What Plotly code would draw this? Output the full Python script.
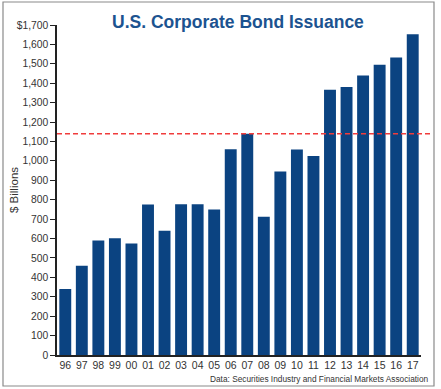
import plotly.graph_objects as go

years = ["96", "97", "98", "99", "00", "01", "02", "03", "04", "05", "06",
         "07", "08", "09", "10", "11", "12", "13", "14", "15", "16", "17"]
issuance = [340, 460, 590, 602, 575, 775, 640, 777, 777, 750, 1060,
            1140, 712, 945, 1058, 1025, 1367, 1380, 1440, 1495, 1532, 1652]
ref_level = 1140
y_tickvals = list(range(0, 1701, 100))
y_ticktext = [f"{v:,}" for v in y_tickvals[:-1]] + ["$1,700"]

title_text = "U.S. Corporate Bond Issuance"
source_text = "Data: Securities Industry and Financial Markets Association"
ytitle_text = "$ Billions"

FONT = "Liberation Sans, Arial, sans-serif"

W, H = 441, 389
L, R, T, B = 57, 421, 25, 355
pw, ph = R - L, B - T
def px(x):
    return (x - L) / pw
def py(y):
    return (B - y) / ph

fig = go.Figure()
fig.add_trace(go.Bar(x=years, y=issuance, marker=dict(color="#0b4381", line=dict(width=0)),
                     hoverinfo="x+y"))

fig.update_layout(
    width=W, height=H,
    margin=dict(l=L, r=W - R, t=T, b=H - B, autoexpand=False),
    paper_bgcolor="white", plot_bgcolor="white",
    bargap=0.28, showlegend=False,
    xaxis=dict(type="category", range=[-0.5, 21.5], showline=True, linecolor="#222",
               linewidth=1.5, ticks="", showgrid=False, zeroline=False, automargin=False,
               tickfont=dict(family=FONT, size=10.5, color="#333")),
    yaxis=dict(range=[0, 1700], tickvals=y_tickvals, ticktext=y_ticktext,
               showline=True, linecolor="#222", linewidth=1.5, ticks="outside",
               ticklen=5, tickcolor="#222", showgrid=False, zeroline=False, automargin=False,
               tickfont=dict(family=FONT, size=10.3, color="#333")),
    shapes=[
        dict(type="rect", xref="paper", yref="paper", x0=px(3), x1=px(434), y0=py(386), y1=py(2),
             line=dict(color="#8a8a8a", width=1.2), layer="below"),
        dict(type="line", xref="paper", yref="y", x0=0, x1=px(432), y0=ref_level, y1=ref_level,
             line=dict(color="#f03c3c", width=1.5, dash="5px,3px")),
    ],
    annotations=[
        dict(text="<b>" + title_text + "</b>", xref="paper", yref="paper", x=px(238), y=py(22),
             xanchor="center", yanchor="middle", showarrow=False,
             font=dict(family=FONT, size=17.5, color="#1c5390")),
        dict(text=source_text, xref="paper", yref="paper", x=px(431), y=py(379),
             xanchor="right", yanchor="middle", showarrow=False,
             font=dict(family=FONT, size=8.3, color="#333")),
        dict(text=ytitle_text, xref="paper", yref="paper", x=px(14), y=py(190),
             xanchor="center", yanchor="middle", showarrow=False, textangle=-90,
             font=dict(family=FONT, size=11.5, color="#333")),
    ],
)

# remove the default 8px page margin so the figure fills the window exactly
fig.write_html("out.html", config={"displayModeBar": False},
               post_script="document.body.style.margin='0';")
